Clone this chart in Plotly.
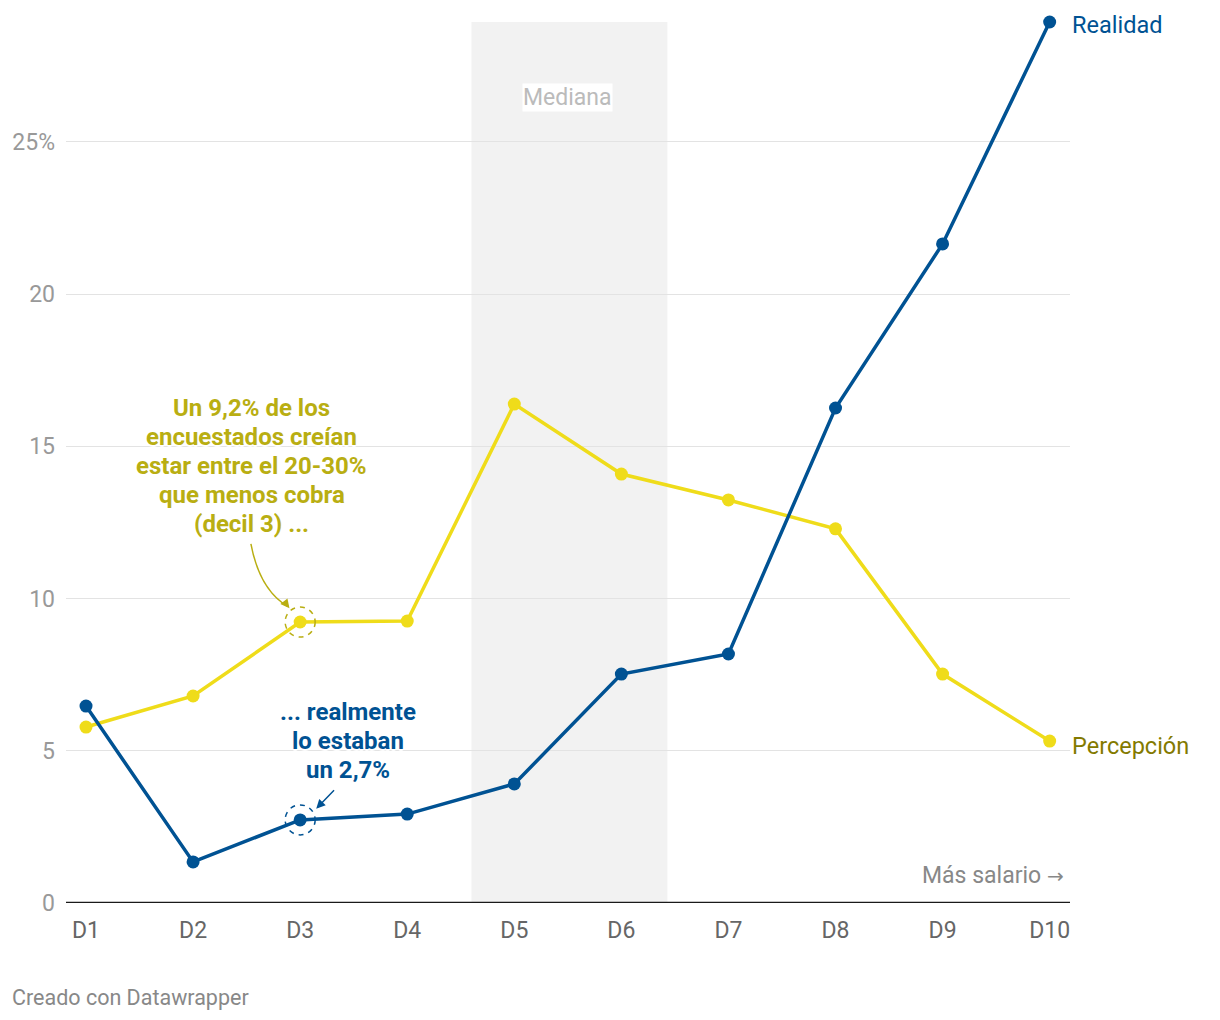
import plotly.graph_objects as go

categories = ["D1", "D2", "D3", "D4", "D5", "D6", "D7", "D8", "D9", "D10"]
realidad = [6.47, 1.35, 2.73, 2.92, 3.91, 7.52, 8.18, 16.26, 21.65, 28.94]
percepcion = [5.78, 6.8, 9.23, 9.26, 16.39, 14.09, 13.24, 12.29, 7.52, 5.32]
y_ticks = [0, 5, 10, 15, 20, 25]
y_tick_labels = ["0", "5", "10", "15", "20", "25%"]

BLUE = "#005293"
YELLOW = "#efdc1a"
YELLOW_TXT = "#b9ae12"
OLIVE = "#837a00"
GRAY = "#888888"
FONT = "Roboto"
HALO = "2px 0 1px white, -2px 0 1px white, 0 2px 1px white, 0 -2px 1px white"

xs = list(range(len(categories)))

fig = go.Figure()

fig.add_trace(go.Scatter(x=xs, y=percepcion, mode="lines+markers",
                         line=dict(color=YELLOW, width=3.5),
                         marker=dict(color=YELLOW, size=13),
                         cliponaxis=False, showlegend=False, hoverinfo="skip"))
fig.add_trace(go.Scatter(x=xs, y=realidad, mode="lines+markers",
                         line=dict(color=BLUE, width=3.5),
                         marker=dict(color=BLUE, size=13),
                         cliponaxis=False, showlegend=False, hoverinfo="skip"))

# Mediana band
fig.add_shape(type="rect", xref="x", yref="y", x0=3.6, x1=5.43, y0=0, y1=max(realidad),
              fillcolor="#f2f2f2", line=dict(width=0), layer="below")
fig.add_annotation(x=4.5, y=26.45, text="Mediana", showarrow=False,
                   font=dict(family=FONT, size=23, color="#bbbbbb"), bgcolor="white", borderpad=0)

# zero line
fig.add_shape(type="line", xref="paper", yref="y", x0=0, x1=1, y0=0, y1=0,
              line=dict(color="#1a1a1a", width=2.5))

# dashed circles around D3 points
for yv, col in [(percepcion[2], "#b9ae12"), (realidad[2], BLUE)]:
    fig.add_shape(type="circle", xref="x", yref="y", xsizemode="pixel", ysizemode="pixel",
                  xanchor=2, yanchor=yv, x0=-15, x1=15, y0=-15, y1=15,
                  line=dict(color=col, width=1.5, dash="5px,5px"))

# yellow annotation text lines
ylines = ["Un 9,2% de los", "encuestados creían", "estar entre el 20-30%",
          "que menos cobra", "(decil 3) ..."]
for i, t in enumerate(ylines):
    fig.add_annotation(x=1.55, y=16.39, xref="x", yref="y", text="<b>" + t + "</b>",
                       showarrow=False, yshift=-(i * 29) - 4,
                       font=dict(family=FONT, size=24, color=YELLOW_TXT, shadow=HALO))

blines = ["... realmente", "lo estaban", "un 2,7%"]
for i, t in enumerate(blines):
    fig.add_annotation(x=2.45, y=6.47, xref="x", yref="y", text="<b>" + t + "</b>",
                       showarrow=False, yshift=-(i * 29) - 6,
                       font=dict(family=FONT, size=24, color=BLUE, shadow=HALO))

# curved yellow arrow (path) + head
fig.add_shape(type="path", xref="x", yref="y",
              path="M 1.54,11.8 Q 1.62,10.3 1.88,9.75",
              line=dict(color="#b9ae12", width=1.5))
fig.add_annotation(x=1.9, y=9.68, ax=1.84, ay=9.95, xref="x", yref="y", axref="x", ayref="y",
                   text="", showarrow=True, arrowhead=2, arrowsize=1.2, arrowwidth=1.5,
                   arrowcolor="#b9ae12", standoff=0)
# blue arrow
fig.add_annotation(x=2.15, y=3.1, ax=2.33, ay=3.75, xref="x", yref="y", axref="x", ayref="y",
                   text="", showarrow=True, arrowhead=2, arrowsize=1.2, arrowwidth=1.5,
                   arrowcolor=BLUE, standoff=0)

# series labels
fig.add_annotation(x=9, y=realidad[-1], text="Realidad", showarrow=False, xanchor="left",
                   xshift=20, yshift=-3, font=dict(family=FONT, size=23.5, color=BLUE))
fig.add_annotation(x=9, y=percepcion[-1], text="Percepción", showarrow=False, xanchor="left",
                   xshift=20, yshift=-5, font=dict(family=FONT, size=23.5, color=OLIVE))

fig.add_annotation(x=1, y=0, xref="paper", yref="y",
                   text='Más salario <span style="font-family:DejaVu Sans;font-size:20px">→</span>',
                   showarrow=False,
                   xanchor="right", yanchor="bottom", xshift=-4, yshift=12,
                   font=dict(family=FONT, size=23, color=GRAY))

fig.add_annotation(x=0, y=0, xref="paper", yref="paper", text="Creado con Datawrapper",
                   showarrow=False, xanchor="left", yanchor="bottom", xshift=-56, yshift=-109,
                   font=dict(family=FONT, size=21.5, color=GRAY))

fig.update_layout(
    width=1220, height=1020,
    margin=dict(l=58, r=158, t=14, b=125),
    paper_bgcolor="white", plot_bgcolor="white",
    font=dict(family=FONT),
    xaxis=dict(range=[-0.187, 9.19], tickvals=xs, ticktext=categories, showgrid=False,
               zeroline=False, showline=False, ticks="", ticklabelstandoff=11, automargin=False,
               tickfont=dict(family=FONT, size=23, color="#666666")),
    yaxis=dict(range=[0, max(realidad)], tickvals=y_ticks, ticktext=y_tick_labels,
               showgrid=True, gridcolor="#e3e3e3", gridwidth=1, zeroline=False,
               showline=False, ticks="", ticklabelstandoff=10, automargin=False,
               tickfont=dict(family=FONT, size=23, color="#999999")),
)

fig.write_html("out.html")
